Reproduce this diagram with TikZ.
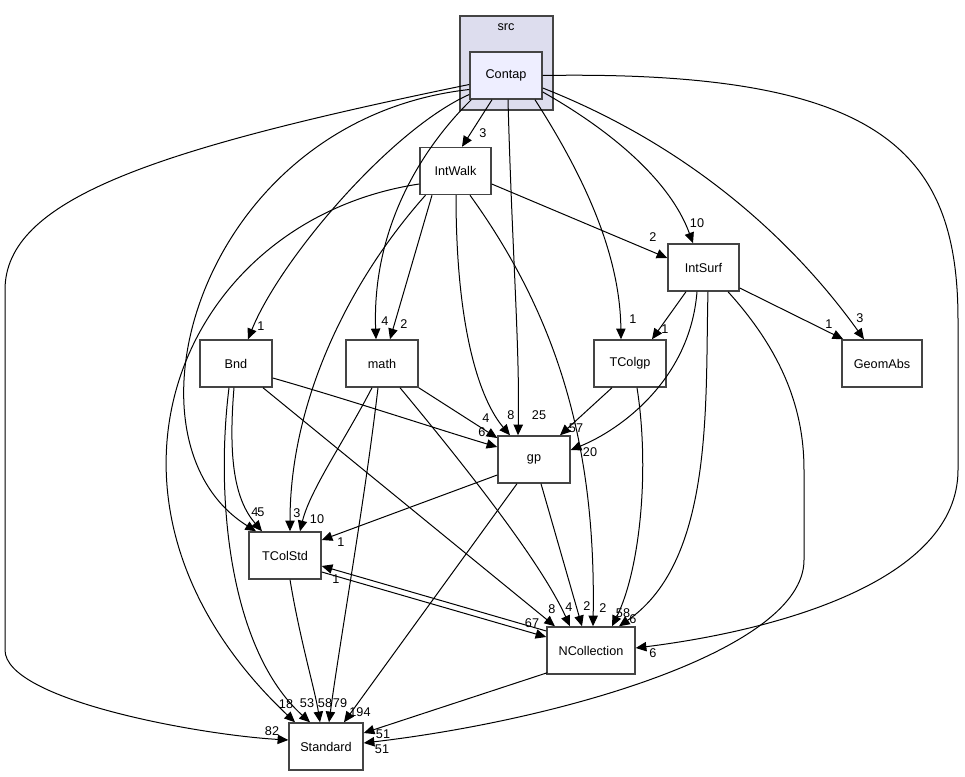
\documentclass[tikz,border=0pt]{standalone}
\usepackage{fontspec}
\setmainfont{Liberation Sans}
\usetikzlibrary{arrows.meta, calc}
\definecolor{clusterfill}{HTML}{DDDDEE}
\definecolor{dirfill}{HTML}{EEEEFF}
\definecolor{boxline}{HTML}{444444}

\begin{document}
\begin{tikzpicture}[x=0.75pt, y=-0.75pt,
  dirbox/.style={draw=boxline, line width=1.1pt, fill=white, minimum width=54pt,
    minimum height=35.25pt, inner sep=0pt, font=\fontsize{9.5}{11}\selectfont},
  dep/.style={-{Triangle[length=8pt, width=7pt]}, line width=0.75pt},
  lbl/.style={font=\fontsize{9.5}{11}\selectfont, inner sep=0pt}]

% Frame
\useasboundingbox (0,0) rectangle (965,777);
\fill[white] (0,0) rectangle (965,777);

% Cluster
\node[draw=boxline, line width=1.1pt, fill=clusterfill, minimum width=69.75pt,
  minimum height=70.5pt, inner sep=0pt] (src) at (506.5,63) {};
\node[lbl] (srclbl) at (506,27) {src};

% Directories
\node[dirbox, fill=dirfill] (Contap) at (506,75.5) {Contap};
\node[dirbox, minimum width=53.25pt] (IntWalk) at (455.5,171) {IntWalk};
\node[dirbox, minimum width=53.25pt] (IntSurf) at (703.5,267.5) {IntSurf};
\node[dirbox] (Bnd) at (236,363.5) {Bnd};
\node[dirbox] (math) at (382,363.5) {math};
\node[dirbox] (TColgp) at (630,363.5) {TColgp};
\node[dirbox, minimum width=60pt] (GeomAbs) at (882,363.5) {GeomAbs};
\node[dirbox] (gp) at (534,459.5) {gp};
\node[dirbox] (TColStd) at (285,555.5) {TColStd};
\node[dirbox, minimum width=66pt] (NCollection) at (591,650.5) {NCollection};
\node[dirbox, minimum width=55.5pt] (Standard) at (326,746.5) {Standard};

% Contap dependencies
\draw[dep] ($(Contap.south)+(-14,0)$) -- ($(IntWalk.north)+(6.5,0)$);
\draw[dep] ($(Contap.south west)+(2,0)$) .. controls (420,150) and (372,230) .. ($(math.north)+(-6,0)$);
\draw[dep] ($(Contap.west)+(0,19)$) .. controls (390,130) and (280,260) .. ($(Bnd.north)+(12,0)$);
\draw[dep] ($(Contap.west)+(0,14)$) .. controls (200,120) and (110,440) .. ($(TColStd.north)+(-29,0)$);
\draw[dep] ($(Contap.west)+(0,9)$) .. controls (150,150) and (5,200) .. (5,290)
  -- (5,650) .. controls (5,700) and (200,735) .. ($(Standard.west)+(0,-6.5)$);
\draw[dep] ($(Contap.south)+(2,0)$) .. controls (512,250) and (520,350) .. ($(gp.north)+(-16,0)$);
\draw[dep] ($(Contap.south)+(29,0)$) .. controls (580,170) and (620,250) .. ($(TColgp.north)+(-9,0)$);
\draw[dep] ($(Contap.east)+(0,16.5)$) .. controls (610,130) and (670,180) .. ($(IntSurf.north)+(-10.5,0)$);
\draw[dep] ($(Contap.east)+(0,12.5)$) .. controls (700,150) and (800,250) .. ($(GeomAbs.north)+(-18,0)$);
\draw[dep] (Contap.east) .. controls (880,70) and (958,150) .. (958,320)
  -- (958,470) .. controls (958,580) and (780,630) .. ($(NCollection.east)+(0,-2.5)$);

% IntWalk dependencies
\draw[dep] ($(IntWalk.east)+(0,13)$) -- ($(IntSurf.west)+(0,-9.5)$);
\draw[dep] ($(IntWalk.south)+(-23.5,0)$) -- ($(math.north)+(8,0)$);
\draw[dep] ($(IntWalk.south)+(-30,0)$) .. controls (350,280) and (290,400) .. ($(TColStd.north)+(5,0)$);
\draw[dep] ($(IntWalk.south)+(0.5,0)$) .. controls (456,330) and (480,400) .. ($(gp.north)+(-24,0)$);
\draw[dep] ($(IntWalk.south)+(14.5,0)$) .. controls (560,320) and (596,450) .. ($(NCollection.north)+(2,0)$);
\draw[dep] ($(IntWalk.west)+(0,13)$) .. controls (180,220) and (60,500) .. ($(Standard.north)+(-31,0)$);

% IntSurf dependencies
\draw[dep] ($(IntSurf.south)+(-17.5,0)$) -- ($(TColgp.north)+(22,0)$);
\draw[dep] ($(IntSurf.east)+(0,20.5)$) -- ($(GeomAbs.north west)+(2,0)$);
\draw[dep] ($(IntSurf.south)+(-6.5,0)$) .. controls (690,380) and (620,430) .. ($(gp.east)+(0,-9.5)$);
\draw[dep] ($(IntSurf.south)+(4.5,0)$) .. controls (705,400) and (715,560) .. ($(NCollection.north)+(28,0)$);
\draw[dep] ($(IntSurf.south)+(24.5,0)$) .. controls (790,360) and (804,420) .. (804,470)
  -- (804,560) .. controls (804,650) and (560,720) .. ($(Standard.east)+(0,-3.5)$);

% TColgp dependencies
\draw[dep] ($(TColgp.south)+(-18,0)$) -- ($(gp.north)+(26,0)$);
\draw[dep] ($(TColgp.south)+(7,0)$) .. controls (650,470) and (640,570) .. ($(NCollection.north)+(21,0)$);

% Bnd dependencies
\draw[dep] ($(Bnd.east)+(0,14.5)$) .. controls (350,400) and (440,430) .. ($(gp.west)+(0,-12.5)$);
\draw[dep] ($(Bnd.south)+(-2,0)$) .. controls (228,460) and (235,500) .. ($(TColStd.north)+(-23,0)$);
\draw[dep] ($(Bnd.south)+(-7,0)$) .. controls (215,500) and (230,650) .. ($(Standard.north)+(-16,0)$);
\draw[dep] ($(Bnd.south)+(27,0)$) -- ($(NCollection.north)+(-36,0)$);

% math dependencies
\draw[dep] (math.south east) -- ($(gp.west)+(0,-21.5)$);
\draw[dep] ($(math.south)+(-10,0)$) .. controls (345,440) and (310,490) .. ($(TColStd.north)+(15,0)$);
\draw[dep] ($(math.south)+(18,0)$) .. controls (460,460) and (540,560) .. ($(NCollection.north)+(-21,0)$);
\draw[dep] ($(math.south)+(-4,0)$) .. controls (365,500) and (340,640) .. ($(Standard.north)+(3,0)$);

% gp dependencies
\draw[dep] ($(gp.west)+(0,15.5)$) -- ($(TColStd.east)+(0,-15.5)$);
\draw[dep] ($(gp.south)+(7,0)$) -- ($(NCollection.north)+(-9,0)$);
\draw[dep] ($(gp.south)+(-17,0)$) -- ($(Standard.north)+(18,0)$);

% TColStd / NCollection dependencies
\draw[dep] ($(TColStd.east)+(0,16.5)$) -- ($(NCollection.west)+(0,-13.5)$);
\draw[dep] ($(NCollection.west)+(0,-19.5)$) -- ($(TColStd.east)+(0,10.5)$);
\draw[dep] ($(TColStd.south)+(5,0)$) .. controls (300,640) and (315,690) .. ($(Standard.north)+(-6,0)$);
\draw[dep] ($(NCollection.south west)+(1,-2)$) -- ($(Standard.east)+(0,-13.5)$);

% Edge counts
\node[lbl] (nIntWalk) at (483,133) {3};
\node[lbl] (nmathA) at (385,321) {4};
\node[lbl] (nmathB) at (404,324) {2};
\node[lbl] (nBnd) at (261,326) {1};
\node[lbl] (nTColgpA) at (633,319) {1};
\node[lbl] (nTColgpB) at (665,329) {1};
\node[lbl] (nIntSurfA) at (697,223) {10};
\node[lbl] (nIntSurfB) at (653,237) {2};
\node[lbl] (nGeomA) at (829,324) {1};
\node[lbl] (nGeomB) at (860,318) {3};
\node[lbl] (ngpA) at (486,418) {4};
\node[lbl] (ngpB) at (482,432) {6};
\node[lbl] (ngpC) at (511,415) {8};
\node[lbl] (ngpD) at (539,415) {25};
\node[lbl] (ngpE) at (576,428) {57};
\node[lbl] (ngpF) at (590,452) {20};
\node[lbl] (nTColStdA) at (255,512) {4};
\node[lbl] (nTColStdB) at (261,512) {5};
\node[lbl] (nTColStdC) at (297,513) {3};
\node[lbl] (nTColStdD) at (317,519) {10};
\node[lbl] (nTColStdE) at (341,542) {1};
\node[lbl] (nTColStdF) at (336,579) {1};
\node[lbl] (nNCollA) at (532,623) {67};
\node[lbl] (nNCollB) at (552,609) {8};
\node[lbl] (nNCollC) at (569,607) {4};
\node[lbl] (nNCollD) at (587,606) {2};
\node[lbl] (nNCollE) at (603,608) {2};
\node[lbl] (nNCollF) at (623,613) {58};
\node[lbl] (nNCollG) at (633,619) {6};
\node[lbl] (nNCollH) at (653,653) {6};
\node[lbl] (nStdA) at (272,731) {82};
\node[lbl] (nStdB) at (286,704) {18};
\node[lbl] (nStdC) at (307,703) {53};
\node[lbl] (nStdD) at (325,703) {58};
\node[lbl] (nStdE) at (340,703) {79};
\node[lbl] (nStdF) at (360,712) {194};
\node[lbl] (nStdG) at (383,734) {51};
\node[lbl] (nStdH) at (382,749) {51};

\end{tikzpicture}
\end{document}
